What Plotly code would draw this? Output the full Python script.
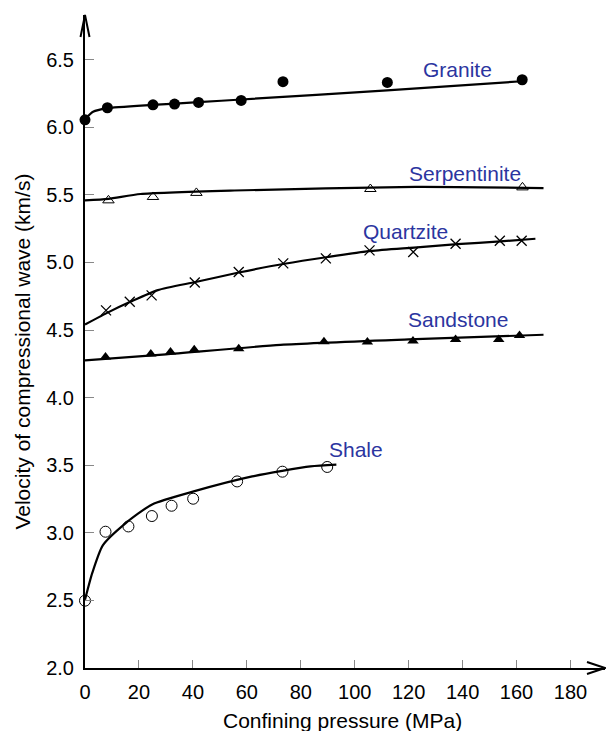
import plotly.graph_objects as go

# ---------------- data ----------------
granite_px = [0, 8.3, 25.2, 33.2, 42.1, 57.9, 73.4, 112.1, 162.1]
granite_py = [6.055, 6.144, 6.166, 6.171, 6.183, 6.198, 6.337, 6.331, 6.351]
granite_cx = [0, 3, 8, 25, 42, 58, 112, 162]
granite_cy = [6.06, 6.115, 6.14, 6.165, 6.185, 6.205, 6.272, 6.34]

serp_px = [8.7, 25.2, 41.3, 105.8, 162.2]
serp_py = [5.459, 5.484, 5.514, 5.543, 5.555]
serp_cx = [0, 8.7, 20.6, 55.4, 122.5, 170]
serp_cy = [5.459, 5.47, 5.506, 5.532, 5.558, 5.55]

quartz_px = [7.8, 16.6, 24.7, 40.7, 57.0, 73.5, 89.3, 105.5, 121.7, 137.4, 153.8, 161.9]
quartz_py = [4.645, 4.709, 4.756, 4.852, 4.929, 4.993, 5.030, 5.089, 5.077, 5.138, 5.160, 5.160]
quartz_cx = [0, 8, 17, 27, 41, 57, 74, 90, 106, 122, 138, 154, 167]
quartz_cy = [4.54, 4.625, 4.71, 4.795, 4.855, 4.925, 4.99, 5.04, 5.085, 5.11, 5.135, 5.155, 5.175]

sand_px = [7.6, 24.4, 31.7, 40.5, 57.0, 88.6, 104.7, 121.6, 137.4, 153.4, 161.1]
sand_py = [4.300, 4.322, 4.337, 4.354, 4.362, 4.414, 4.412, 4.419, 4.429, 4.429, 4.459]
sand_cx = [0, 30, 72.5, 120, 170]
sand_cy = [4.275, 4.32, 4.39, 4.43, 4.465]

shale_px = [0, 7.6, 16.1, 24.8, 32.1, 40.1, 56.4, 73.2, 89.8]
shale_py = [2.498, 3.008, 3.047, 3.124, 3.200, 3.252, 3.380, 3.452, 3.487]
shale_cx = [0, 2.7, 6.6, 15, 24.9, 40.3, 62, 83.6, 93.2]
shale_cy = [2.505, 2.703, 2.907, 3.07, 3.21, 3.306, 3.417, 3.491, 3.504]

label_names = ["Granite", "Serpentinite", "Quartzite", "Sandstone", "Shale"]
label_x = [138, 140.9, 119, 138.2, 100.6]
label_y = [6.425, 5.661, 5.229, 4.581, 3.615]

x_title = "Confining pressure (MPa)"
y_title = "Velocity of compressional wave (km/s)"

# ---------------- figure ----------------
FONT = "Liberation Sans, Arial, Helvetica, sans-serif"
LABEL_COLOR = "#2b35a0"

fig = go.Figure()

def add_rock(cx, cy, px, py, symbol, size, fill, lw):
    fig.add_trace(go.Scatter(x=cx, y=cy, mode="lines",
                             line=dict(color="black", width=2.2, shape="spline", smoothing=0.6),
                             hoverinfo="skip", showlegend=False))
    fig.add_trace(go.Scatter(x=px, y=py, mode="markers",
                             marker=dict(symbol=symbol, size=size, color=fill,
                                         line=dict(color="black", width=lw)),
                             showlegend=False, cliponaxis=False))

add_rock(granite_cx, granite_cy, granite_px, granite_py, "circle", 11, "black", 0)
add_rock(serp_cx, serp_cy, serp_px, serp_py, "triangle-up", 10, "rgba(255,255,255,0)", 1)
add_rock(quartz_cx, quartz_cy, quartz_px, quartz_py, "x-thin", 10, "black", 1.3)
add_rock(sand_cx, sand_cy, sand_px, sand_py, "triangle-up", 10, "black", 0)
add_rock(shale_cx, shale_cy, shale_px, shale_py, "circle", 11, "rgba(255,255,255,0)", 1)

for name, lx, ly in zip(label_names, label_x, label_y):
    fig.add_annotation(x=lx, y=ly, text=name, showarrow=False,
                       font=dict(family=FONT, size=21, color=LABEL_COLOR))

# axis titles as annotations (placed like the reference)
fig.add_annotation(xref="paper", yref="paper", x=0.495, y=-0.08, text=x_title,
                   showarrow=False, xanchor="center", yanchor="middle",
                   font=dict(family=FONT, size=21, color="black"))
fig.add_annotation(xref="paper", yref="paper", x=-0.121, y=0.4847, text=y_title,
                   showarrow=False, textangle=-90, xanchor="center", yanchor="middle",
                   font=dict(family=FONT, size=21, color="black"))

# arrow heads on the axes
fig.add_shape(type="path", xref="paper", yref="paper", xsizemode="pixel", ysizemode="pixel",
              xanchor=1, yanchor=0, path="M-18,-6 L0,0 L-18,6",
              line=dict(color="black", width=2))
fig.add_shape(type="path", xref="paper", yref="paper", xsizemode="pixel", ysizemode="pixel",
              xanchor=0, yanchor=1, path="M-4.5,-22 L0,0 L4.5,-22",
              line=dict(color="black", width=2))

fig.update_layout(
    width=606, height=731,
    margin=dict(l=85, r=1, t=15, b=63),
    paper_bgcolor="white", plot_bgcolor="white",
    font=dict(family=FONT, size=20, color="black"),
    xaxis=dict(range=[0, 192.8], tick0=0, dtick=20, ticks="inside", ticklen=8,
               tickcolor="#888888", tickwidth=1, showline=True, linecolor="black",
               linewidth=2, showgrid=False, zeroline=False, automargin=False,
               tickfont=dict(size=20), ticklabelstandoff=5),
    yaxis=dict(range=[2.0, 6.83], tick0=2.0, dtick=0.5, tickformat=".1f", ticks="inside",
               ticklen=9, tickcolor="#888888", tickwidth=1, showline=True,
               linecolor="black", linewidth=2, showgrid=False, zeroline=False,
               automargin=False, tickfont=dict(size=20), ticklabelstandoff=5),
)

fig.write_html("out.html", config={"displayModeBar": False},
               post_script="document.body.style.margin='0px';document.body.style.padding='0px';")
